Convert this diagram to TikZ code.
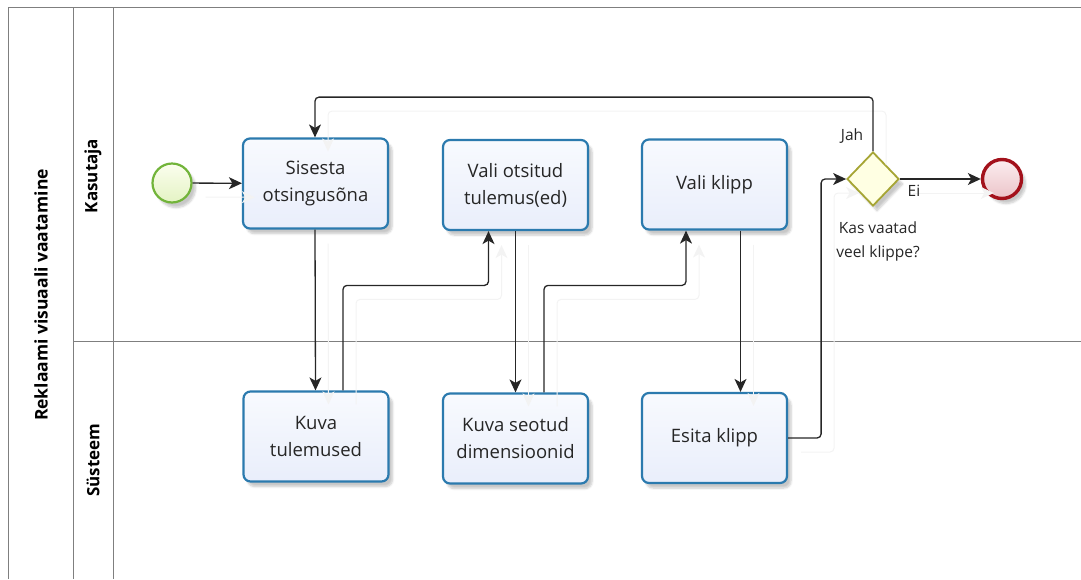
\documentclass[tikz,border=0pt]{standalone}
\usepackage{fontspec}
\setmainfont{Open Sans}
\usetikzlibrary{arrows.meta,shadows.blur,shapes.geometric}
\definecolor{taskline}{HTML}{2B7AAE}
\definecolor{tasktop}{HTML}{F8FAFE}
\definecolor{taskbot}{HTML}{E9EEFB}
\definecolor{startline}{HTML}{72B43A}
\definecolor{starttop}{HTML}{FBFEEE}
\definecolor{startbot}{HTML}{E4F3C4}
\definecolor{endline}{HTML}{A3111B}
\definecolor{endtop}{HTML}{FCEEF0}
\definecolor{endbot}{HTML}{EBC3C8}
\definecolor{gwline}{HTML}{A6A534}
\definecolor{gwfill}{HTML}{FFFFE3}
\definecolor{poolline}{HTML}{7F7F7F}
\definecolor{ghost}{HTML}{F3F3F3}
\tikzset{
  softshadow/.style={blur shadow={shadow xshift=4pt,shadow yshift=-5pt,shadow opacity=22,shadow blur steps=6}},
  task/.style={draw=taskline,line width=2.2pt,rounded corners=7pt,
    top color=tasktop,bottom color=taskbot,minimum width=145pt,minimum height=90pt,
    align=center,font=\fontsize{18.5}{27}\selectfont,text=black!85,softshadow},
  startev/.style={circle,draw=startline,line width=2.2pt,minimum size=39pt,inner sep=0pt,
    top color=starttop,bottom color=startbot,softshadow},
  endev/.style={circle,draw=endline,line width=3.4pt,minimum size=39pt,inner sep=0pt,
    top color=endtop,bottom color=endbot,softshadow},
  gateway/.style={diamond,draw=gwline,line width=1.8pt,fill=gwfill,minimum width=52pt,
    minimum height=54pt,inner sep=0pt,softshadow},
  flow/.style={draw=black!85,line width=1.3pt,rounded corners=4pt,
    -{Stealth[length=13pt,width=12pt,inset=3.5pt]},
    preaction={draw=ghost,line width=1pt,transform canvas={shift={(13,14)}}}},
  lbl/.style={font=\fontsize{15.5}{23}\selectfont,text=black!85,align=center},
  lanelbl/.style={font=\bfseries\fontsize{17}{20}\selectfont,rotate=90},
}
\begin{document}
\begin{tikzpicture}[x=1pt,y=-1pt]
\useasboundingbox (0,0) rectangle (1081,579);
% pool and lane frame
\draw[poolline,line width=1pt] (1081,7.5) -- (8.5,7.5) -- (8.5,579);
\draw[poolline,line width=1pt] (73.5,7.5) -- (73.5,579);
\draw[poolline,line width=1pt] (113.5,7.5) -- (113.5,579);
\draw[poolline,line width=1pt] (73.5,341.5) -- (1081,341.5);
\node[lanelbl,font=\bfseries\fontsize{17.5}{20}\selectfont] (pool) at (41,295) {Reklaami visuaali vaatamine};
\node[lanelbl] (lane1) at (93,176) {Kasutaja};
\node[lanelbl] (lane2) at (93,460) {Süsteem};
% events and gateway
\node[startev] (start) at (172,183) {};
\node[endev] (end) at (1002,179) {};
\node[gateway] (gw) at (873,179) {};
% tasks
\node[task] (t1) at (315.5,183.5) {Sisesta\\otsingusõna};
\node[task] (t2) at (515.5,185) {Vali otsitud\\tulemus(ed)};
\node[task] (t3) at (714.5,184.5) {Vali klipp};
\node[task] (t4) at (316,436.5) {Kuva\\tulemused};
\node[task] (t5) at (515.5,438.5) {Kuva seotud\\dimensioonid};
\node[task] (t6) at (714.5,438) {Esita klipp};
% sequence flows
\draw[flow] (start) -- (t1);
\draw[flow] ([xshift=-0.5pt]t1.south) -- ([xshift=-0.5pt]t4.north);
\draw[flow] ([xshift=27pt]t4.north) -- ++(0,-105) -| ([xshift=-27pt]t2.south);
\draw[flow] (t2.south) -- (t5.north);
\draw[flow] ([xshift=28.5pt]t5.north) -- ++(0,-107) -| ([xshift=-28.5pt]t3.south);
\draw[flow] ([xshift=26pt]t3.south) -- ([xshift=26pt]t6.north);
\draw[flow] (t6.east) -- ++(33,0) |- (gw.west);
\draw[flow] (gw.east) -- (end);
\draw[flow] (gw.north) -- ++(0,-54) -| ([xshift=-0.5pt]t1.north);
% gateway labels
\node[lbl] (jah) at (852,136) {Jah};
\node[lbl] (ei) at (914,191) {Ei};
\node[lbl,font=\fontsize{15.5}{24}\selectfont] (q) at (878,241) {Kas vaatad\\veel klippe?};
\end{tikzpicture}
\end{document}
